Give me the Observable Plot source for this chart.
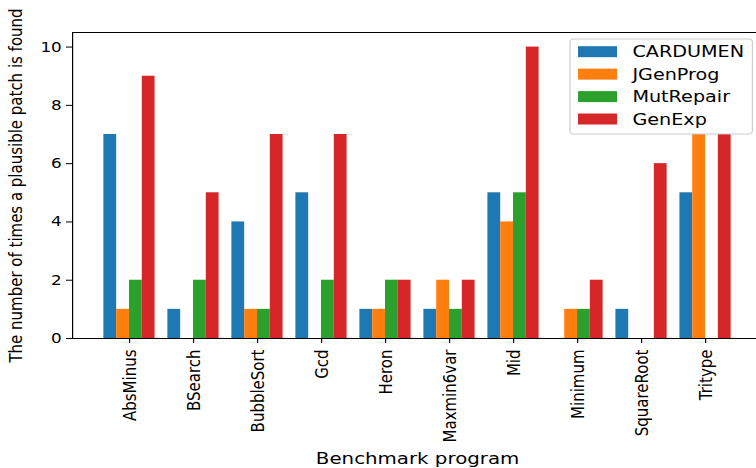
<!DOCTYPE html>
<html>
<head>
<meta charset="utf-8">
<script src="https://cdn.jsdelivr.net/npm/d3@7"></script>
<script src="https://cdn.jsdelivr.net/npm/@observablehq/plot@0.6"></script>
<style>
  html, body { margin: 0; padding: 0; background: white; overflow: hidden; }
  #chart svg { display: block; transform-origin: 0 0; }
</style>
</head>
<body>
<div id="chart"></div>
<script>
const programs = ["AbsMinus", "BSearch", "BubbleSort", "Gcd", "Heron", "Maxmin6var", "Mid", "Minimum", "SquareRoot", "Tritype"];
const series = ["CARDUMEN", "JGenProg", "MutRepair", "GenExp"];
const cardumen  = [7, 1, 4, 5, 1, 1, 5, 0, 1, 5];
const jgenprog  = [1, 0, 1, 0, 1, 2, 4, 1, 0, 7];
const mutrepair = [2, 2, 1, 2, 2, 1, 5, 1, 0, 0];
const genexp    = [9, 5, 7, 7, 2, 2, 10, 2, 6, 7];
const colors = ["#1f77b4", "#ff7f0e", "#2ca02c", "#d62728"];
const yTicks = [0, 2, 4, 6, 8, 10];
const yLabel = "The number of times a plausible patch is found";
const xLabel = "Benchmark program";

const seriesValues = [cardumen, jgenprog, mutrepair, genexp];
const barWidth = 0.2;
const rows = [];
seriesValues.forEach((vals, s) => {
  vals.forEach((v, i) => {
    const center = i + (s - 1.5) * barWidth;
    rows.push({program: programs[i], series: series[s], x1: center - barWidth / 2, x2: center + barWidth / 2, value: v});
  });
});

const SX = 1.2;           // horizontal stretch of the reference figure
const W = 756 / SX;       // 630
const xMin = -0.89, xMax = 9.89, yMax = 10.5;

const chart = Plot.plot({
  width: W,
  height: 468,
  marginLeft: 60,
  marginRight: -5,
  marginTop: 32,
  marginBottom: 130,
  x: {domain: [xMin, xMax]},
  y: {domain: [0, yMax]},
  color: {domain: series, range: colors},
  style: {fontFamily: "DejaVu Sans", background: "white", color: "black", overflow: "visible"},
  marks: [
    Plot.rect(rows, {x1: "x1", x2: "x2", y1: 0, y2: "value", fill: "series"}),
    Plot.ruleY([0, yMax], {x1: xMin, x2: xMax, stroke: "black", strokeWidth: 1}),
    Plot.ruleX([xMin], {y1: 0, y2: yMax, stroke: "black", strokeWidth: 1}),
    Plot.axisY({ticks: yTicks, tickSize: 5, tickPadding: 4, fontSize: 14, label: null}),
    Plot.axisX({ticks: d3.range(programs.length), tickSize: 5, tickFormat: () => "", label: null}),
    Plot.text(programs, {x: (d, i) => i, frameAnchor: "bottom", rotate: -90, textAnchor: "end", dy: 11, dx: 5, fontSize: 15, fill: "black"}),
    Plot.text([yLabel], {frameAnchor: "left", textAnchor: "middle", rotate: -90, dx: -47, fontSize: 15, fill: "black"}),
    Plot.text([xLabel], {frameAnchor: "bottom", lineAnchor: "bottom", dy: 125, fontSize: 16.5, fill: "black"})
  ]
});

// Legend (upper right, matplotlib style)
const svg = d3.select(chart);
const lg = svg.append("g").attr("font-family", "DejaVu Sans").attr("text-anchor", "start");
const lx = 475, ly = 39, lw = 152, lh = 95;
lg.append("rect").attr("x", lx).attr("y", ly).attr("width", lw).attr("height", lh)
  .attr("rx", 3).attr("fill", "white").attr("fill-opacity", 0.8).attr("stroke", "#cccccc");
const rowY = [51.7, 74.1, 96.6, 119.0];
series.forEach((name, s) => {
  lg.append("rect").attr("x", 481.7).attr("y", rowY[s] - 5.5).attr("width", 32.5).attr("height", 11).attr("fill", colors[s]);
  lg.append("text").attr("x", 527).attr("y", rowY[s]).attr("dy", "0.36em").attr("text-anchor", "start")
    .attr("font-size", 16).attr("fill", "black").text(name);
});

chart.style.transform = `scaleX(${SX})`;
document.getElementById("chart").appendChild(chart);
</script>
</body>
</html>
